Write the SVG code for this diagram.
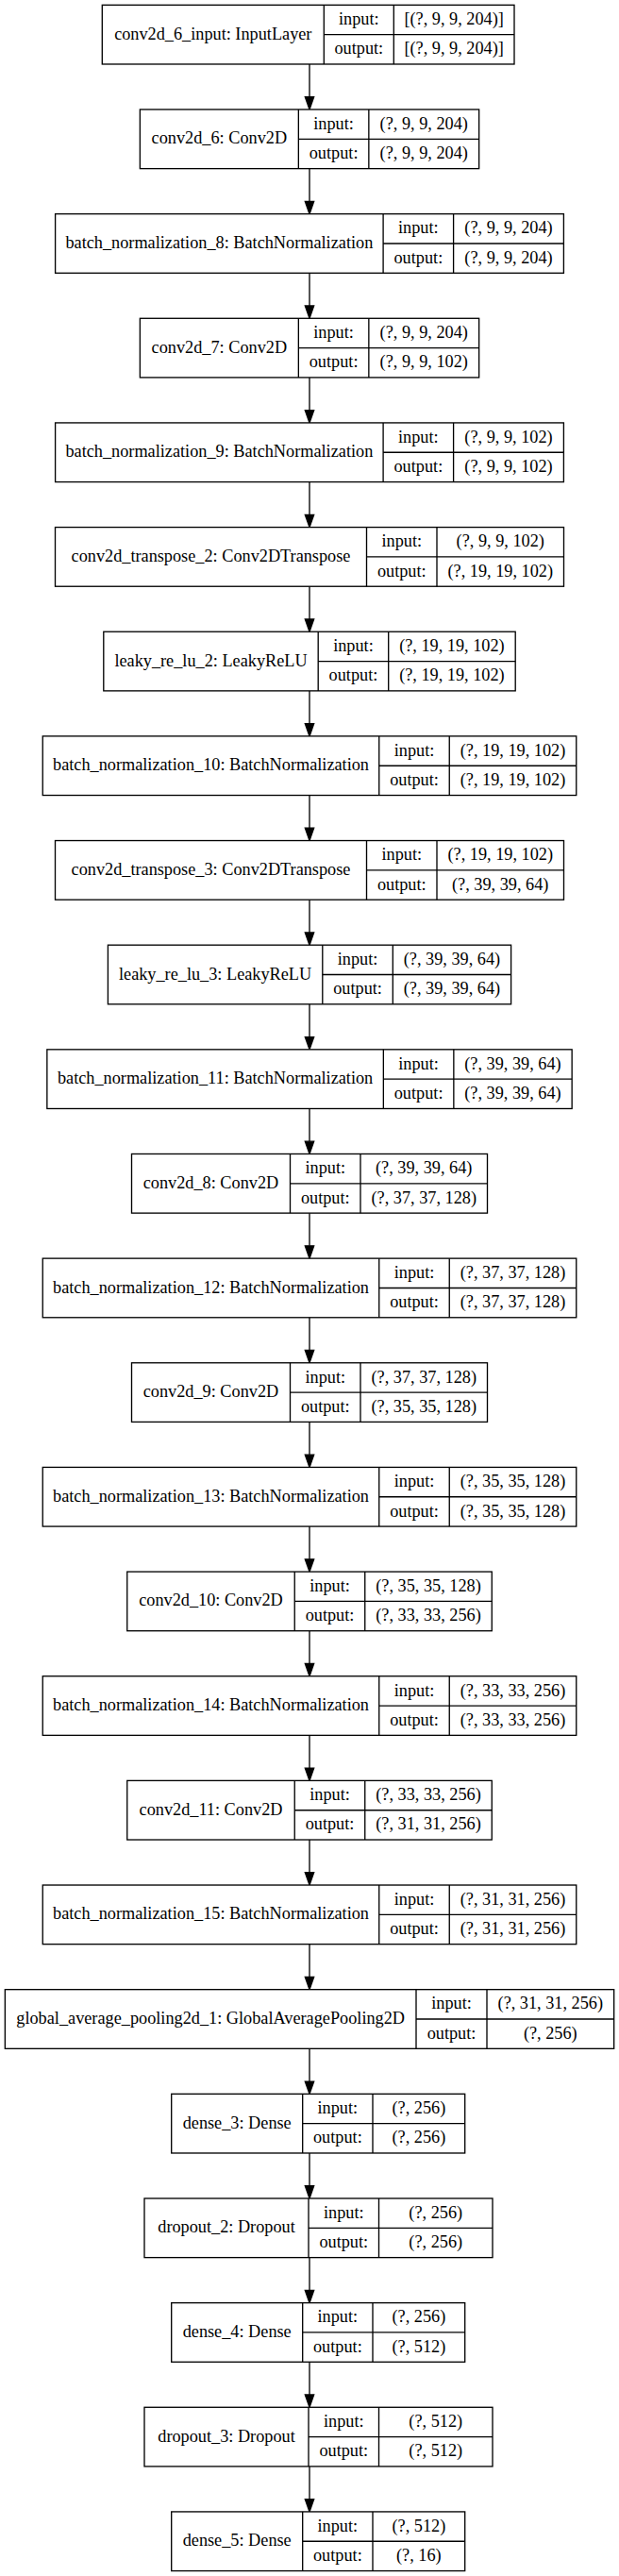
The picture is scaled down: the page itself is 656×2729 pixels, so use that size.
<svg xmlns="http://www.w3.org/2000/svg" width="656" height="2729" viewBox="0 0 656 2729">
<style>
rect{fill:#fff;stroke:#000;stroke-width:1.33}
line{stroke:#000;stroke-width:1.33}
text{font-family:"Liberation Serif","Times New Roman",serif;font-size:18.25px;text-anchor:middle;fill:#000}
.e line{stroke:#000;stroke-width:1.33}
.e polygon{fill:#000;stroke:#000;stroke-width:1.33}
</style>
<rect x="0" y="0" width="656" height="2729" style="stroke:none;fill:#fff"/>
<g class="e" id="edges">
<line x1="328" y1="67.98" x2="328" y2="102.7"/><polygon points="323.33,102.7 332.67,102.7 328,115.98"/>
<line x1="328" y1="178.63" x2="328" y2="213.35"/><polygon points="323.33,213.35 332.67,213.35 328,226.63"/>
<line x1="328" y1="289.28" x2="328" y2="324"/><polygon points="323.33,324 332.67,324 328,337.28"/>
<line x1="328" y1="399.93" x2="328" y2="434.65"/><polygon points="323.33,434.65 332.67,434.65 328,447.93"/>
<line x1="328" y1="510.58" x2="328" y2="545.3"/><polygon points="323.33,545.3 332.67,545.3 328,558.58"/>
<line x1="328" y1="621.23" x2="328" y2="655.95"/><polygon points="323.33,655.95 332.67,655.95 328,669.23"/>
<line x1="328" y1="731.88" x2="328" y2="766.6"/><polygon points="323.33,766.6 332.67,766.6 328,779.88"/>
<line x1="328" y1="842.53" x2="328" y2="877.25"/><polygon points="323.33,877.25 332.67,877.25 328,890.53"/>
<line x1="328" y1="953.18" x2="328" y2="987.9"/><polygon points="323.33,987.9 332.67,987.9 328,1001.18"/>
<line x1="328" y1="1063.83" x2="328" y2="1098.55"/><polygon points="323.33,1098.55 332.67,1098.55 328,1111.83"/>
<line x1="328" y1="1174.48" x2="328" y2="1209.2"/><polygon points="323.33,1209.2 332.67,1209.2 328,1222.48"/>
<line x1="328" y1="1285.13" x2="328" y2="1319.85"/><polygon points="323.33,1319.85 332.67,1319.85 328,1333.13"/>
<line x1="328" y1="1395.78" x2="328" y2="1430.5"/><polygon points="323.33,1430.5 332.67,1430.5 328,1443.78"/>
<line x1="328" y1="1506.43" x2="328" y2="1541.15"/><polygon points="323.33,1541.15 332.67,1541.15 328,1554.43"/>
<line x1="328" y1="1617.08" x2="328" y2="1651.8"/><polygon points="323.33,1651.8 332.67,1651.8 328,1665.08"/>
<line x1="328" y1="1727.73" x2="328" y2="1762.45"/><polygon points="323.33,1762.45 332.67,1762.45 328,1775.73"/>
<line x1="328" y1="1838.38" x2="328" y2="1873.1"/><polygon points="323.33,1873.1 332.67,1873.1 328,1886.38"/>
<line x1="328" y1="1949.03" x2="328" y2="1983.75"/><polygon points="323.33,1983.75 332.67,1983.75 328,1997.03"/>
<line x1="328" y1="2059.68" x2="328" y2="2094.4"/><polygon points="323.33,2094.4 332.67,2094.4 328,2107.68"/>
<line x1="328" y1="2170.33" x2="328" y2="2205.05"/><polygon points="323.33,2205.05 332.67,2205.05 328,2218.33"/>
<line x1="328" y1="2280.98" x2="328" y2="2315.7"/><polygon points="323.33,2315.7 332.67,2315.7 328,2328.98"/>
<line x1="328" y1="2391.63" x2="328" y2="2426.35"/><polygon points="323.33,2426.35 332.67,2426.35 328,2439.63"/>
<line x1="328" y1="2502.28" x2="328" y2="2537"/><polygon points="323.33,2537 332.67,2537 328,2550.28"/>
<line x1="328" y1="2612.93" x2="328" y2="2647.65"/><polygon points="323.33,2647.65 332.67,2647.65 328,2660.93"/>
</g>

<g id="n0" transform="translate(0,5.33)">
<rect x="108.3" y="0" width="436.7" height="62.65"/>
<line x1="343.3" y1="0" x2="343.3" y2="62.65"/><line x1="417.3" y1="0" x2="417.3" y2="62.65"/><line x1="343.3" y1="31.33" x2="545" y2="31.33"/>
<text x="225.8" y="36.4">conv2d_6_input: InputLayer</text>
<text x="380.3" y="20.8">input:</text><text x="380.3" y="52.1">output:</text>
<text x="481.15" y="20.8">[(?, 9, 9, 204)]</text><text x="481.15" y="52.1">[(?, 9, 9, 204)]</text>
</g>

<g id="n1" transform="translate(0,115.98)">
<rect x="148.35" y="0" width="359.3" height="62.65"/>
<line x1="316.35" y1="0" x2="316.35" y2="62.65"/><line x1="390.85" y1="0" x2="390.85" y2="62.65"/><line x1="316.35" y1="31.33" x2="507.65" y2="31.33"/>
<text x="232.35" y="36.4">conv2d_6: Conv2D</text>
<text x="353.6" y="20.8">input:</text><text x="353.6" y="52.1">output:</text>
<text x="449.25" y="20.8">(?, 9, 9, 204)</text><text x="449.25" y="52.1">(?, 9, 9, 204)</text>
</g>

<g id="n2" transform="translate(0,226.63)">
<rect x="58.6" y="0" width="538.8" height="62.65"/>
<line x1="406.1" y1="0" x2="406.1" y2="62.65"/><line x1="480.6" y1="0" x2="480.6" y2="62.65"/><line x1="406.1" y1="31.33" x2="597.4" y2="31.33"/>
<text x="232.35" y="36.4">batch_normalization_8: BatchNormalization</text>
<text x="443.35" y="20.8">input:</text><text x="443.35" y="52.1">output:</text>
<text x="539" y="20.8">(?, 9, 9, 204)</text><text x="539" y="52.1">(?, 9, 9, 204)</text>
</g>

<g id="n3" transform="translate(0,337.28)">
<rect x="148.35" y="0" width="359.3" height="62.65"/>
<line x1="316.35" y1="0" x2="316.35" y2="62.65"/><line x1="390.85" y1="0" x2="390.85" y2="62.65"/><line x1="316.35" y1="31.33" x2="507.65" y2="31.33"/>
<text x="232.35" y="36.4">conv2d_7: Conv2D</text>
<text x="353.6" y="20.8">input:</text><text x="353.6" y="52.1">output:</text>
<text x="449.25" y="20.8">(?, 9, 9, 204)</text><text x="449.25" y="52.1">(?, 9, 9, 102)</text>
</g>

<g id="n4" transform="translate(0,447.93)">
<rect x="58.6" y="0" width="538.8" height="62.65"/>
<line x1="406.1" y1="0" x2="406.1" y2="62.65"/><line x1="480.6" y1="0" x2="480.6" y2="62.65"/><line x1="406.1" y1="31.33" x2="597.4" y2="31.33"/>
<text x="232.35" y="36.4">batch_normalization_9: BatchNormalization</text>
<text x="443.35" y="20.8">input:</text><text x="443.35" y="52.1">output:</text>
<text x="539" y="20.8">(?, 9, 9, 102)</text><text x="539" y="52.1">(?, 9, 9, 102)</text>
</g>

<g id="n5" transform="translate(0,558.58)">
<rect x="58.5" y="0" width="539" height="62.65"/>
<line x1="388.5" y1="0" x2="388.5" y2="62.65"/><line x1="463" y1="0" x2="463" y2="62.65"/><line x1="388.5" y1="31.33" x2="597.5" y2="31.33"/>
<text x="223.5" y="36.4">conv2d_transpose_2: Conv2DTranspose</text>
<text x="425.75" y="20.8">input:</text><text x="425.75" y="52.1">output:</text>
<text x="530.25" y="20.8">(?, 9, 9, 102)</text><text x="530.25" y="52.1">(?, 19, 19, 102)</text>
</g>

<g id="n6" transform="translate(0,669.23)">
<rect x="109.8" y="0" width="436.4" height="62.65"/>
<line x1="337.2" y1="0" x2="337.2" y2="62.65"/><line x1="411.7" y1="0" x2="411.7" y2="62.65"/><line x1="337.2" y1="31.33" x2="546.2" y2="31.33"/>
<text x="223.5" y="36.4">leaky_re_lu_2: LeakyReLU</text>
<text x="374.45" y="20.8">input:</text><text x="374.45" y="52.1">output:</text>
<text x="478.95" y="20.8">(?, 19, 19, 102)</text><text x="478.95" y="52.1">(?, 19, 19, 102)</text>
</g>

<g id="n7" transform="translate(0,779.88)">
<rect x="45.25" y="0" width="565.5" height="62.65"/>
<line x1="401.75" y1="0" x2="401.75" y2="62.65"/><line x1="476.25" y1="0" x2="476.25" y2="62.65"/><line x1="401.75" y1="31.33" x2="610.75" y2="31.33"/>
<text x="223.5" y="36.4">batch_normalization_10: BatchNormalization</text>
<text x="439" y="20.8">input:</text><text x="439" y="52.1">output:</text>
<text x="543.5" y="20.8">(?, 19, 19, 102)</text><text x="543.5" y="52.1">(?, 19, 19, 102)</text>
</g>

<g id="n8" transform="translate(0,890.53)">
<rect x="58.5" y="0" width="539" height="62.65"/>
<line x1="388.5" y1="0" x2="388.5" y2="62.65"/><line x1="463" y1="0" x2="463" y2="62.65"/><line x1="388.5" y1="31.33" x2="597.5" y2="31.33"/>
<text x="223.5" y="36.4">conv2d_transpose_3: Conv2DTranspose</text>
<text x="425.75" y="20.8">input:</text><text x="425.75" y="52.1">output:</text>
<text x="530.25" y="20.8">(?, 19, 19, 102)</text><text x="530.25" y="52.1">(?, 39, 39, 64)</text>
</g>

<g id="n9" transform="translate(0,1001.18)">
<rect x="114.4" y="0" width="427.2" height="62.65"/>
<line x1="341.8" y1="0" x2="341.8" y2="62.65"/><line x1="416.3" y1="0" x2="416.3" y2="62.65"/><line x1="341.8" y1="31.33" x2="541.6" y2="31.33"/>
<text x="228.1" y="36.4">leaky_re_lu_3: LeakyReLU</text>
<text x="379.05" y="20.8">input:</text><text x="379.05" y="52.1">output:</text>
<text x="478.95" y="20.8">(?, 39, 39, 64)</text><text x="478.95" y="52.1">(?, 39, 39, 64)</text>
</g>

<g id="n10" transform="translate(0,1111.83)">
<rect x="49.85" y="0" width="556.3" height="62.65"/>
<line x1="406.35" y1="0" x2="406.35" y2="62.65"/><line x1="480.85" y1="0" x2="480.85" y2="62.65"/><line x1="406.35" y1="31.33" x2="606.15" y2="31.33"/>
<text x="228.1" y="36.4">batch_normalization_11: BatchNormalization</text>
<text x="443.6" y="20.8">input:</text><text x="443.6" y="52.1">output:</text>
<text x="543.5" y="20.8">(?, 39, 39, 64)</text><text x="543.5" y="52.1">(?, 39, 39, 64)</text>
</g>

<g id="n11" transform="translate(0,1222.48)">
<rect x="139.5" y="0" width="377" height="62.65"/>
<line x1="307.5" y1="0" x2="307.5" y2="62.65"/><line x1="382" y1="0" x2="382" y2="62.65"/><line x1="307.5" y1="31.33" x2="516.5" y2="31.33"/>
<text x="223.5" y="36.4">conv2d_8: Conv2D</text>
<text x="344.75" y="20.8">input:</text><text x="344.75" y="52.1">output:</text>
<text x="449.25" y="20.8">(?, 39, 39, 64)</text><text x="449.25" y="52.1">(?, 37, 37, 128)</text>
</g>

<g id="n12" transform="translate(0,1333.13)">
<rect x="45.25" y="0" width="565.5" height="62.65"/>
<line x1="401.75" y1="0" x2="401.75" y2="62.65"/><line x1="476.25" y1="0" x2="476.25" y2="62.65"/><line x1="401.75" y1="31.33" x2="610.75" y2="31.33"/>
<text x="223.5" y="36.4">batch_normalization_12: BatchNormalization</text>
<text x="439" y="20.8">input:</text><text x="439" y="52.1">output:</text>
<text x="543.5" y="20.8">(?, 37, 37, 128)</text><text x="543.5" y="52.1">(?, 37, 37, 128)</text>
</g>

<g id="n13" transform="translate(0,1443.78)">
<rect x="139.5" y="0" width="377" height="62.65"/>
<line x1="307.5" y1="0" x2="307.5" y2="62.65"/><line x1="382" y1="0" x2="382" y2="62.65"/><line x1="307.5" y1="31.33" x2="516.5" y2="31.33"/>
<text x="223.5" y="36.4">conv2d_9: Conv2D</text>
<text x="344.75" y="20.8">input:</text><text x="344.75" y="52.1">output:</text>
<text x="449.25" y="20.8">(?, 37, 37, 128)</text><text x="449.25" y="52.1">(?, 35, 35, 128)</text>
</g>

<g id="n14" transform="translate(0,1554.43)">
<rect x="45.25" y="0" width="565.5" height="62.65"/>
<line x1="401.75" y1="0" x2="401.75" y2="62.65"/><line x1="476.25" y1="0" x2="476.25" y2="62.65"/><line x1="401.75" y1="31.33" x2="610.75" y2="31.33"/>
<text x="223.5" y="36.4">batch_normalization_13: BatchNormalization</text>
<text x="439" y="20.8">input:</text><text x="439" y="52.1">output:</text>
<text x="543.5" y="20.8">(?, 35, 35, 128)</text><text x="543.5" y="52.1">(?, 35, 35, 128)</text>
</g>

<g id="n15" transform="translate(0,1665.08)">
<rect x="134.75" y="0" width="386.5" height="62.65"/>
<line x1="312.25" y1="0" x2="312.25" y2="62.65"/><line x1="386.75" y1="0" x2="386.75" y2="62.65"/><line x1="312.25" y1="31.33" x2="521.25" y2="31.33"/>
<text x="223.5" y="36.4">conv2d_10: Conv2D</text>
<text x="349.5" y="20.8">input:</text><text x="349.5" y="52.1">output:</text>
<text x="454" y="20.8">(?, 35, 35, 128)</text><text x="454" y="52.1">(?, 33, 33, 256)</text>
</g>

<g id="n16" transform="translate(0,1775.73)">
<rect x="45.25" y="0" width="565.5" height="62.65"/>
<line x1="401.75" y1="0" x2="401.75" y2="62.65"/><line x1="476.25" y1="0" x2="476.25" y2="62.65"/><line x1="401.75" y1="31.33" x2="610.75" y2="31.33"/>
<text x="223.5" y="36.4">batch_normalization_14: BatchNormalization</text>
<text x="439" y="20.8">input:</text><text x="439" y="52.1">output:</text>
<text x="543.5" y="20.8">(?, 33, 33, 256)</text><text x="543.5" y="52.1">(?, 33, 33, 256)</text>
</g>

<g id="n17" transform="translate(0,1886.38)">
<rect x="134.75" y="0" width="386.5" height="62.65"/>
<line x1="312.25" y1="0" x2="312.25" y2="62.65"/><line x1="386.75" y1="0" x2="386.75" y2="62.65"/><line x1="312.25" y1="31.33" x2="521.25" y2="31.33"/>
<text x="223.5" y="36.4">conv2d_11: Conv2D</text>
<text x="349.5" y="20.8">input:</text><text x="349.5" y="52.1">output:</text>
<text x="454" y="20.8">(?, 33, 33, 256)</text><text x="454" y="52.1">(?, 31, 31, 256)</text>
</g>

<g id="n18" transform="translate(0,1997.03)">
<rect x="45.25" y="0" width="565.5" height="62.65"/>
<line x1="401.75" y1="0" x2="401.75" y2="62.65"/><line x1="476.25" y1="0" x2="476.25" y2="62.65"/><line x1="401.75" y1="31.33" x2="610.75" y2="31.33"/>
<text x="223.5" y="36.4">batch_normalization_15: BatchNormalization</text>
<text x="439" y="20.8">input:</text><text x="439" y="52.1">output:</text>
<text x="543.5" y="20.8">(?, 31, 31, 256)</text><text x="543.5" y="52.1">(?, 31, 31, 256)</text>
</g>

<g id="n19" transform="translate(0,2107.68)">
<rect x="5.33" y="0" width="645.34" height="62.65"/>
<line x1="441" y1="0" x2="441" y2="62.65"/><line x1="516" y1="0" x2="516" y2="62.65"/><line x1="441" y1="31.33" x2="650.67" y2="31.33"/>
<text x="223.17" y="36.4">global_average_pooling2d_1: GlobalAveragePooling2D</text>
<text x="478.5" y="20.8">input:</text><text x="478.5" y="52.1">output:</text>
<text x="583.33" y="20.8">(?, 31, 31, 256)</text><text x="583.33" y="52.1">(?, 256)</text>
</g>

<g id="n20" transform="translate(0,2218.33)">
<rect x="181.7" y="0" width="311" height="62.65"/>
<line x1="320.7" y1="0" x2="320.7" y2="62.65"/><line x1="395" y1="0" x2="395" y2="62.65"/><line x1="320.7" y1="31.33" x2="492.7" y2="31.33"/>
<text x="251.2" y="36.4">dense_3: Dense</text>
<text x="357.85" y="20.8">input:</text><text x="357.85" y="52.1">output:</text>
<text x="443.85" y="20.8">(?, 256)</text><text x="443.85" y="52.1">(?, 256)</text>
</g>

<g id="n21" transform="translate(0,2328.98)">
<rect x="153" y="0" width="369" height="62.65"/>
<line x1="327" y1="0" x2="327" y2="62.65"/><line x1="401.5" y1="0" x2="401.5" y2="62.65"/><line x1="327" y1="31.33" x2="522" y2="31.33"/>
<text x="240" y="36.4">dropout_2: Dropout</text>
<text x="364.25" y="20.8">input:</text><text x="364.25" y="52.1">output:</text>
<text x="461.75" y="20.8">(?, 256)</text><text x="461.75" y="52.1">(?, 256)</text>
</g>

<g id="n22" transform="translate(0,2439.63)">
<rect x="181.7" y="0" width="311" height="62.65"/>
<line x1="320.7" y1="0" x2="320.7" y2="62.65"/><line x1="395" y1="0" x2="395" y2="62.65"/><line x1="320.7" y1="31.33" x2="492.7" y2="31.33"/>
<text x="251.2" y="36.4">dense_4: Dense</text>
<text x="357.85" y="20.8">input:</text><text x="357.85" y="52.1">output:</text>
<text x="443.85" y="20.8">(?, 256)</text><text x="443.85" y="52.1">(?, 512)</text>
</g>

<g id="n23" transform="translate(0,2550.28)">
<rect x="153" y="0" width="369" height="62.65"/>
<line x1="327" y1="0" x2="327" y2="62.65"/><line x1="401.5" y1="0" x2="401.5" y2="62.65"/><line x1="327" y1="31.33" x2="522" y2="31.33"/>
<text x="240" y="36.4">dropout_3: Dropout</text>
<text x="364.25" y="20.8">input:</text><text x="364.25" y="52.1">output:</text>
<text x="461.75" y="20.8">(?, 512)</text><text x="461.75" y="52.1">(?, 512)</text>
</g>

<g id="n24" transform="translate(0,2660.93)">
<rect x="181.7" y="0" width="311" height="62.65"/>
<line x1="320.7" y1="0" x2="320.7" y2="62.65"/><line x1="395" y1="0" x2="395" y2="62.65"/><line x1="320.7" y1="31.33" x2="492.7" y2="31.33"/>
<text x="251.2" y="36.4">dense_5: Dense</text>
<text x="357.85" y="20.8">input:</text><text x="357.85" y="52.1">output:</text>
<text x="443.85" y="20.8">(?, 512)</text><text x="443.85" y="52.1">(?, 16)</text>
</g>
</svg>
